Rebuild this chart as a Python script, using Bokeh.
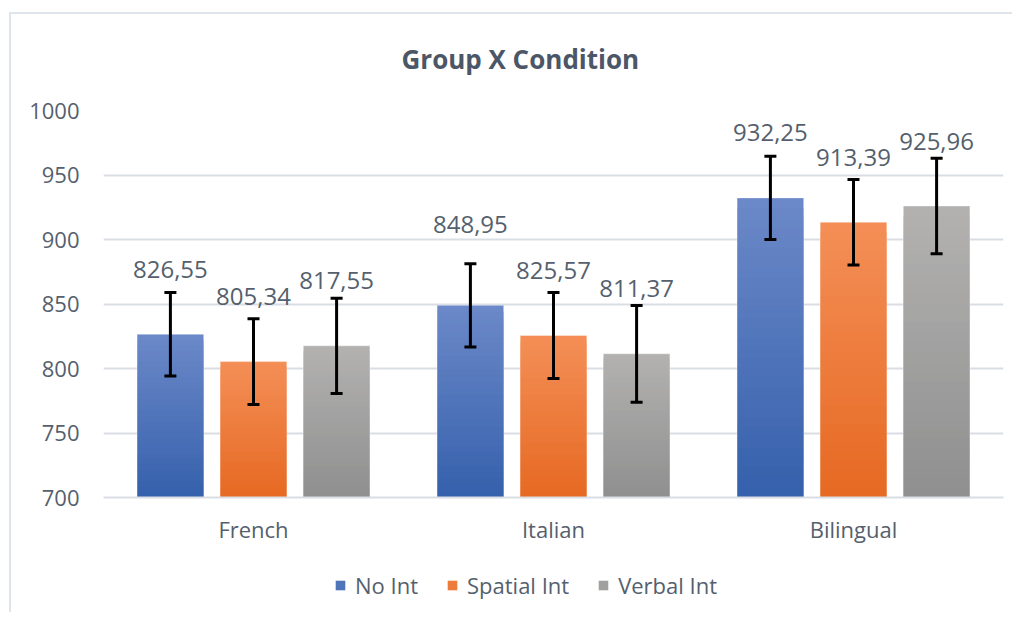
from bokeh.plotting import figure
from bokeh.layouts import column
from bokeh.models import (ColumnDataSource, FactorRange, Whisker, TeeHead, Legend,
                          LegendItem, FixedTicker)
from bokeh.transform import dodge
from bokeh.core.properties import value
from bokeh.embed import file_html
from bokeh.resources import INLINE

# ---------------- data ----------------
groups = ["French", "Italian", "Bilingual"]
series = ["No Int", "Spatial Int", "Verbal Int"]
no_int = [826.55, 848.95, 932.25]
spatial_int = [805.34, 825.57, 913.39]
verbal_int = [817.55, 811.37, 925.96]
no_int_err = [32.3, 32.3, 32.3]
spatial_int_err = [33.2, 33.3, 33.1]
verbal_int_err = [37.0, 37.5, 37.0]
y_ticks = [700, 750, 800, 850, 900, 950, 1000]

# ---------------- style ----------------
FONT = "Open Sans"
TEXT_COL = "#555f6d"
GRID_COL = "#d9dde4"
FRAME_COL = "#dfe3ea"
offsets = [-0.277, 0.0, 0.277]
bar_w = 0.222
grad = {  # (bottom colour, top colour)
    "No Int": ((0x35, 0x60, 0xAC), (0x6C, 0x89, 0xC8)),
    "Spatial Int": ((0xE6, 0x69, 0x22), (0xF4, 0x8F, 0x57)),
    "Verbal Int": ((0x8F, 0x8F, 0x8F), (0xB3, 0xB2, 0xB1)),
}
label_nudge = {("Italian", "No Int"): -16}
N_STEPS = 30

values = {"No Int": no_int, "Spatial Int": spatial_int, "Verbal Int": verbal_int}
errors = {"No Int": no_int_err, "Spatial Int": spatial_int_err, "Verbal Int": verbal_int_err}

p = figure(x_range=FactorRange(*groups, range_padding=0.0), y_range=(700, 1000),
           width=1012, height=552, output_backend="svg", toolbar_location=None,
           min_border_left=103, min_border_right=9, min_border_top=110,
           min_border_bottom=55)

p.outline_line_color = None
p.background_fill_color = "white"
p.border_fill_alpha = 0

# title
p.title.text = "Group X Condition"
p.title.text_font = FONT
p.title.text_font_size = "26px"
p.title.text_font_style = "bold"
p.title.text_color = "#4b5666"
p.title.align = "left"
p.title.offset = 298
p.title.standoff = 68

# axes
p.yaxis.ticker = FixedTicker(ticks=y_ticks)
p.yaxis.axis_line_color = None
p.yaxis.major_tick_line_color = None
p.yaxis.minor_tick_line_color = None
p.yaxis.major_label_standoff = 18
p.yaxis.major_label_text_font = FONT
p.yaxis.major_label_text_font_size = "22px"
p.yaxis.major_label_text_color = TEXT_COL

p.xaxis.axis_line_color = GRID_COL
p.xaxis.axis_line_width = 2
p.xaxis.major_tick_line_color = None
p.xaxis.minor_tick_line_color = None
p.xaxis.major_label_standoff = 10
p.xaxis.major_label_text_font = FONT
p.xaxis.major_label_text_font_size = "22px"
p.xaxis.major_label_text_color = TEXT_COL

p.xgrid.grid_line_color = None
p.ygrid.grid_line_color = GRID_COL
p.ygrid.grid_line_width = 2

# legend-only strip below the chart
lf = figure(x_range=FactorRange(*groups), y_range=(0, 1), width=1012, height=60,
            output_backend="svg", toolbar_location=None,
            min_border_left=0, min_border_right=0, min_border_top=0, min_border_bottom=0)
lf.axis.visible = False
lf.grid.visible = False
lf.outline_line_color = None
lf.background_fill_alpha = 0
lf.border_fill_alpha = 0

legend_items = []
for s, off in zip(series, offsets):
    vals = values[s]
    errs = errors[s]
    lo, hi = grad[s]
    cats, tops, cols = [], [], []
    # nested bars: tallest (lightest) first, shorter darker ones on top
    for k in range(N_STEPS, 0, -1):
        t = (k - 0.5) / N_STEPS
        c = tuple(int(round(lo[i] + (hi[i] - lo[i]) * t)) for i in range(3))
        col = "#%02x%02x%02x" % c
        for g, v in zip(groups, vals):
            cats.append(g)
            tops.append(700 + (v - 700) * k / N_STEPS)
            cols.append(col)
    src = ColumnDataSource(dict(cat=cats, top=tops, color=cols))
    p.vbar(x=dodge("cat", off, range=p.x_range), top="top", bottom=700,
           width=bar_w, fill_color="color", line_color=None, source=src)
    # soft light edge around each bar
    osrc = ColumnDataSource(dict(cat=groups, top=vals))
    p.vbar(x=dodge("cat", off, range=p.x_range), top="top", bottom=700,
           width=bar_w, fill_color=None, line_color="white", line_alpha=0.35,
           line_width=1, source=osrc)
    # hidden twin renderer used only for the legend swatch
    r2 = lf.vbar(x=dodge("cat", off, range=lf.x_range), top="top", bottom=700,
                 width=bar_w, fill_color="color", line_color=None, source=src,
                 visible=False)
    mid_index = (N_STEPS // 2) * len(groups)
    legend_items.append(LegendItem(label=s, renderers=[r2], index=mid_index))

    esrc = ColumnDataSource(dict(cat=groups,
                                 upper=[v + e for v, e in zip(vals, errs)],
                                 lower=[v - e for v, e in zip(vals, errs)]))
    w = Whisker(base=dodge("cat", off, range=p.x_range), upper="upper", lower="lower",
                source=esrc, line_color="black", line_width=3, level="overlay",
                upper_head=TeeHead(size=12, line_width=3, line_color="black"),
                lower_head=TeeHead(size=12, line_width=3, line_color="black"))
    p.add_layout(w)

    lsrc = ColumnDataSource(dict(
        cat=groups, y=vals,
        txt=[("%.2f" % v).replace(".", ",") for v in vals],
        yo=[-65 + label_nudge.get((g, s), 0) for g in groups]))
    p.text(x=dodge("cat", off, range=p.x_range), y="y", text="txt", y_offset="yo",
           text_align="center", text_baseline="alphabetic",
           text_font=value(FONT), text_font_size="24px", text_color=TEXT_COL,
           source=lsrc)

legend = Legend(items=legend_items, orientation="horizontal", location=(231, 12))
legend.border_line_color = None
legend.background_fill_alpha = 0
legend.inactive_fill_alpha = 0
legend.label_text_font = FONT
legend.label_text_font_size = "22px"
legend.label_text_color = TEXT_COL
legend.glyph_width = 12
legend.glyph_height = 12
legend.label_standoff = 9
legend.spacing = 28
legend.padding = 4
legend.margin = 0
lf.add_layout(legend)

layout = column(p, lf, spacing=0)
# thin light chart-area frame (top and left edges) behind the transparent borders
layout.styles = {
    "background": ("linear-gradient(%s,%s) 9px 12px / 100%% 2px no-repeat, "
                   "linear-gradient(%s,%s) 9px 12px / 2px 100%% no-repeat, white")
                  % (FRAME_COL, FRAME_COL, FRAME_COL, FRAME_COL),
}
open("out.html", "w").write(file_html(layout, INLINE))
